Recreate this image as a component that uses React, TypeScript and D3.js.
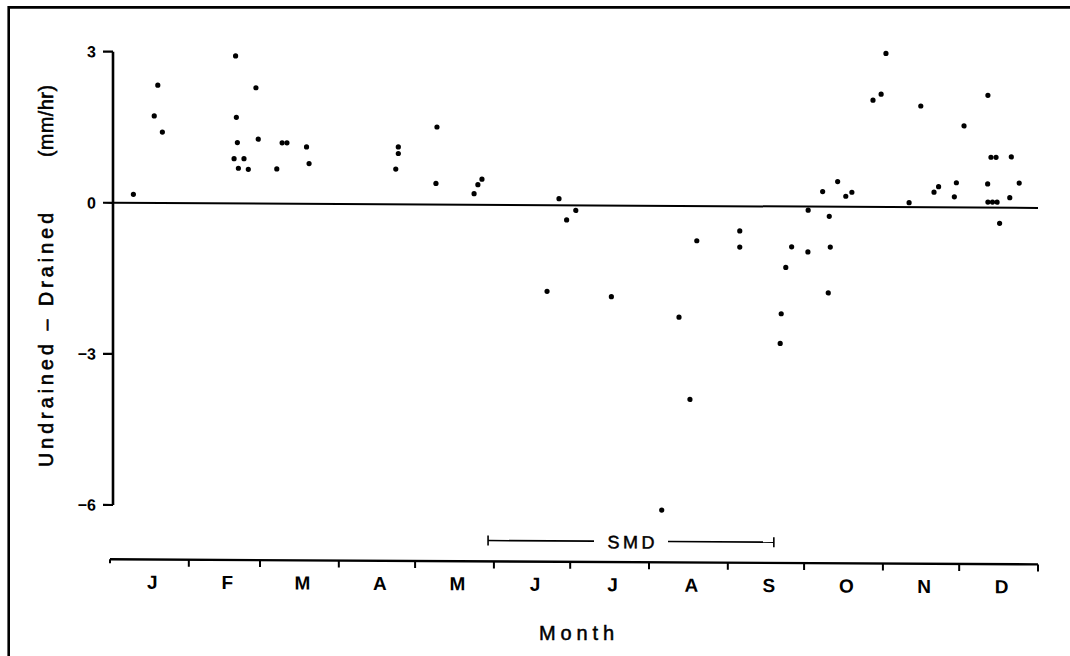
import React from 'react';
import * as d3 from 'd3';

// ---- data ----
const months = ['J', 'F', 'M', 'A', 'M', 'J', 'J', 'A', 'S', 'O', 'N', 'D'];
const monthDays = [31, 28, 31, 30, 31, 30, 31, 31, 30, 31, 30, 31];
const yTicks = [3, 0, -3, -6];
const smdPeriod = [148.7, 261.1]; // day of year, start / end of soil moisture deficit

// day of year of each observation
const obsDay = [
  9.2, 18.8, 17.4, 20.6,
  49.4, 49.7, 50.1, 48.8, 52.7, 50.5, 54.4, 57.4, 58.3,
  67.7, 69.6, 65.6, 77.3, 78.3,
  113.4, 113.4, 112.4,
  128.6, 128.2, 144.7, 146.3, 143.2,
  176.6, 183.2, 179.6, 171.9,
  197.2,
  223.8, 228.1, 230.8, 217.0,
  247.7, 247.7, 268.1, 265.8, 264.0, 263.6,
  274.5, 274.6, 282.9, 283.3, 282.5, 280.3, 286.2, 289.4, 291.8, 300.1, 303.3,
  305.2, 314.3, 318.9, 324.1, 325.9, 332.1, 332.9,
  335.9, 345.2, 345.3, 345.3, 347.1, 348.9, 346.5, 348.5, 354.5, 353.9, 357.6, 349.9,
];
// undrained - drained (mm/hr)
const obsDiff = [
  0.17, 2.34, 1.73, 1.41,
  2.93, 1.71, 1.21, 0.89, 0.89, 0.70, 0.68, 2.30, 1.28,
  1.21, 1.21, 0.69, 1.13, 0.80,
  1.14, 1.01, 0.70,
  1.54, 0.42, 0.40, 0.51, 0.22,
  0.13, -0.10, -0.29, -1.71,
  -1.81,
  -2.21, -3.84, -0.69, -6.04,
  -0.49, -0.81, -0.80, -1.21, -2.13, -2.72,
  -0.90, -0.07, -0.19, -0.80, -1.71, 0.30, 0.50, 0.21, 0.29, 2.12, 2.24,
  3.05, 0.09, 2.01, 0.30, 0.41, 0.21, 0.49,
  1.62, 0.47, 2.23, 0.11, 0.11, 0.11, 1.00, 1.00, 1.01, 0.20, 0.49, -0.31,
];

const FONT = '"Liberation Sans", Arial, Helvetica, sans-serif';
const INK = '#000';

export default function App() {
  const W = 1070;
  const H = 656;
  const x = d3.scaleLinear().domain([0, 365]).range([110, 1038]);
  const y = d3.scaleLinear().domain([-6, 3]).range([505, 51.7]);
  const yAxisX = 113;
  const xAxisY = 559.3;
  const k = 0.0055; // slight shear of the scanned figure
  const skewDeg = (Math.atan(k) * 180) / Math.PI;
  const bounds = Array.from(d3.cumsum([0, ...monthDays]));
  const points = obsDay.map((d, i) => ({ d, v: obsDiff[i] }));

  const smdY = 538.5;
  const smdTextX = 631;
  const gap = 37;

  return (
    <svg
      width={W}
      height={H}
      viewBox={`0 0 ${W} ${H}`}
      style={{ position: 'absolute', left: 0, top: 0, background: '#fff' }}
    >
      <rect x={0} y={0} width={W} height={H} fill="#fff" />
      {/* frame */}
      <path d={`M8.7,${H + 5} V7.4 H${W + 5}`} fill="none" stroke={INK} strokeWidth={2.6} />

      <g transform={`translate(0, ${-yAxisX * k}) skewY(${skewDeg})`}>
        {/* y axis */}
        <line x1={yAxisX} x2={yAxisX} y1={y(3)} y2={y(-6)} stroke={INK} strokeWidth={2.6} />
        {yTicks.map((t) => (
          <g key={t}>
            <line x1={yAxisX - 10} x2={yAxisX} y1={y(t)} y2={y(t)} stroke={INK} strokeWidth={2.2} />
            <text
              x={96}
              y={y(t)}
              dy="0.36em"
              textAnchor="end"
              fontFamily={FONT}
              fontWeight="bold"
              fontSize={16}
              fill={INK}
            >
              {t < 0 ? `\u2212${Math.abs(t)}` : `${t}`}
            </text>
          </g>
        ))}

        {/* zero line */}
        <line x1={yAxisX} x2={x(365)} y1={y(0)} y2={y(0)} stroke={INK} strokeWidth={2} />

        {/* points */}
        {points.map((p, i) => (
          <circle key={i} cx={x(p.d)} cy={y(p.v)} r={2.6} fill={INK} />
        ))}

        {/* SMD bracket */}
        <g stroke={INK} strokeWidth={1.6}>
          <line x1={x(smdPeriod[0])} x2={smdTextX - gap} y1={smdY} y2={smdY} />
          <line x1={smdTextX + gap} x2={x(smdPeriod[1])} y1={smdY} y2={smdY} />
          <line x1={x(smdPeriod[0])} x2={x(smdPeriod[0])} y1={smdY - 5} y2={smdY + 5} />
          <line x1={x(smdPeriod[1])} x2={x(smdPeriod[1])} y1={smdY - 5} y2={smdY + 5} />
        </g>
        <text
          x={smdTextX}
          y={smdY + 7}
          textAnchor="middle"
          fontFamily={FONT}
          fontSize={18}
          fill={INK}
          stroke={INK}
          strokeWidth={0.5}
          textLength={47}
          lengthAdjust="spacing"
        >
          SMD
        </text>

        {/* x axis */}
        <line x1={x(0)} x2={x(365)} y1={xAxisY} y2={xAxisY} stroke={INK} strokeWidth={2.4} />
        {bounds.map((b, i) => (
          <line
            key={i}
            x1={x(b)}
            x2={x(b)}
            y1={xAxisY}
            y2={xAxisY + (i === 0 ? 4 : 7)}
            stroke={INK}
            strokeWidth={2}
          />
        ))}
        {months.map((m, i) => (
          <text
            key={i}
            x={x((bounds[i] + bounds[i + 1]) / 2) + 3}
            y={588.5}
            textAnchor="middle"
            fontFamily={FONT}
            fontWeight="bold"
            fontSize={19}
            fill={INK}
          >
            {m}
          </text>
        ))}
      </g>

      {/* axis titles */}
      <text
        transform="translate(53, 467) rotate(-90)"
        textAnchor="start"
        fontFamily={FONT}
        fontSize={19.5}
        fill={INK}
        stroke={INK}
        strokeWidth={0.6}
        textLength={254}
        lengthAdjust="spacing"
      >
        Undrained – Drained
      </text>
      <text
        transform="translate(53, 157) rotate(-90)"
        textAnchor="start"
        fontFamily={FONT}
        fontSize={19.5}
        fill={INK}
        stroke={INK}
        strokeWidth={0.6}
        textLength={72}
        lengthAdjust="spacing"
      >
        (mm/hr)
      </text>
      <text
        x={539}
        y={640}
        textAnchor="start"
        fontFamily={FONT}
        fontSize={20}
        fill={INK}
        stroke={INK}
        strokeWidth={0.5}
        textLength={75}
        lengthAdjust="spacing"
      >
        Month
      </text>
    </svg>
  );
}
